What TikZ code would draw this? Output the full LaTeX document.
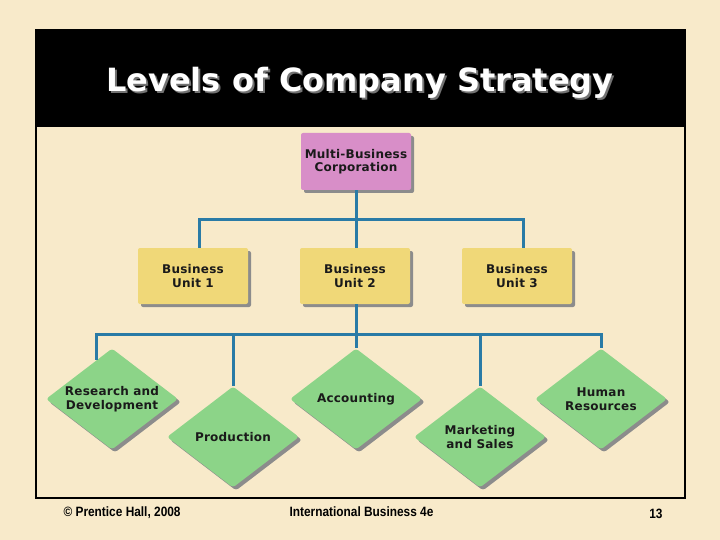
\documentclass[tikz,border=0pt]{standalone}
\usepackage{fontspec}
\usetikzlibrary{shapes.geometric,shadows,calc}
\newfontfamily\boxfont{DejaVu Sans}[LetterSpace=2]
\newfontfamily\titlefont{DejaVu Sans}
\newfontfamily\footfont{Liberation Sans}[FakeStretch=0.88]
\definecolor{bgc}{HTML}{F8EACA}
\definecolor{pinkc}{HTML}{D88EC8}
\definecolor{yelc}{HTML}{F0D878}
\definecolor{grnc}{HTML}{8CD488}
\definecolor{linec}{HTML}{2A7BA6}
\definecolor{txtc}{HTML}{1A1A1A}
\definecolor{shc}{HTML}{8C8C8C}
\tikzset{
  shad/.style={drop shadow={shadow xshift=3pt,shadow yshift=-3pt,fill=shc,opacity=1}},
  boxlbl/.style={font=\boxfont\bfseries\fontsize{12}{13.5}\selectfont,text=txtc,align=center},
  corpbox/.style={rectangle,rounded corners=2pt,fill=pinkc,shad,minimum width=110pt,minimum height=57pt,boxlbl},
  unitbox/.style={rectangle,rounded corners=2pt,fill=yelc,shad,minimum width=110pt,minimum height=56pt,boxlbl},
  funcdia/.style={diamond,rounded corners=3pt,fill=grnc,shad,minimum width=132pt,minimum height=101pt,inner sep=0pt},
  conn/.style={draw=linec,line width=3pt},
  foot/.style={font=\footfont\bfseries\fontsize{13.5}{15}\selectfont,text=black}
}
\newcommand{\titletext}{Levels of Company Strategy}
\begin{document}
\begin{tikzpicture}[x=1pt,y=-1pt]
\useasboundingbox (0,0) rectangle (720,540);
\fill[bgc] (0,0) rectangle (720,540);
% frame and header
\fill[black] (36,30) rectangle (685,127);
\draw[black,line width=1.2pt] (36,30) rectangle (685,498);
\node[font=\titlefont\bfseries\fontsize{32}{36}\selectfont,text=white,anchor=base] (title) at (360,92)
  {\rlap{\hspace{2pt}\raisebox{-2pt}{\textcolor{black!55}{\titletext}}}\titletext};
% nodes
\node[corpbox] (corp) at (356,161.5) {Multi-Business\\Corporation};
\node[unitbox] (bu1) at (193,276) {Business\\Unit 1};
\node[unitbox] (bu2) at (355,276) {Business\\Unit 2};
\node[unitbox] (bu3) at (517,276) {Business\\Unit 3};
\node[funcdia] (rd) at (112,399) {};
\node[funcdia] (prod) at (233,437) {};
\node[funcdia] (acc) at (356,399) {};
\node[funcdia] (mkt) at (480,437) {};
\node[funcdia] (hr) at (601,399) {};
\node[boxlbl] (rdt) at (rd.center) {Research and\\Development};
\node[boxlbl] (prodt) at (prod.center) {Production};
\node[boxlbl] (acct) at (acc.center) {Accounting};
\node[boxlbl] (mktt) at (mkt.center) {Marketing\\and Sales};
\node[boxlbl] (hrt) at (hr.center) {Human\\Resources};
% connectors
\coordinate (h1) at (356,220);
\coordinate (h2) at (356,334);
\coordinate (rdin) at ($(rd.west)!0.77!(rd.north)$);
\draw[conn] (corp.south) -- (h1);
\draw[conn] (h1) -| ([xshift=6pt]bu1.north);
\draw[conn] (h1) -| ([xshift=6pt]bu3.north);
\draw[conn] (h1) -| ([xshift=1pt]bu2.north);
\draw[conn] ([xshift=1pt]bu2.south) -- (h2);
\draw[conn] (h2) -| (rdin);
\draw[conn] (h2) -| (prod.north);
\draw[conn] (h2) -- (acc.north);
\draw[conn] (h2) -| (mkt.north);
\draw[conn] (h2) -| (hr.north);
% footer
\node[foot,anchor=base west] (f1) at (60,516) {© Prentice Hall, 2008};
\node[foot,anchor=base west] (f2) at (286,516) {International Business 4e};
\node[foot,anchor=base east] (f3) at (666,518) {13};
\end{tikzpicture}
\end{document}
